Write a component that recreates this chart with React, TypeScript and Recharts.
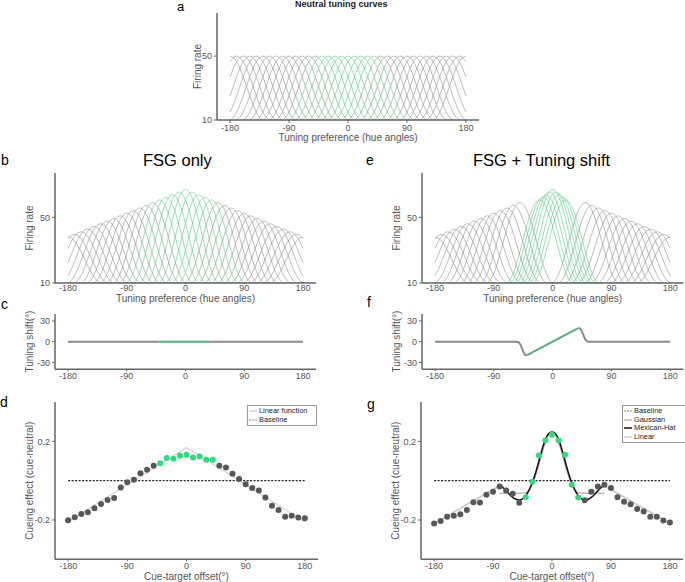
import React from 'react';
import { LineChart, ComposedChart, Line, Scatter, XAxis, YAxis } from 'recharts';

// preferred hue of each model neuron (deg)
const CENTERS = [-180, -170, -160, -150, -140, -130, -120, -110, -100, -90, -80, -70, -60, -50, -40, -30, -20, -10, 0,
  10, 20, 30, 40, 50, 60, 70, 80, 90, 100, 110, 120, 130, 140, 150, 160, 170, 180];
// same neurons after the attentional tuning shift (panel e)
const SHIFTED_PREFS = [-180, -170, -160, -150, -140, -130, -120, -110, -100, -90, -80, -70, -60, -50, -20, -15, -10, -5, 0,
  5, 10, 15, 20, 50, 60, 70, 80, 90, 100, 110, 120, 130, 140, 150, 160, 170, 180];

const BASE_RATE = 10;
const NEUTRAL_PEAK = 50;
const FSG_PEAKS = [38, 39.6, 41.2, 42.8, 44.4, 46.1, 47.7, 49.3, 50.9, 52.5, 54.1, 55.7, 57.3, 58.9, 60.6, 62.2, 63.8, 65.4, 67,
  65.4, 63.8, 62.2, 60.6, 58.9, 57.3, 55.7, 54.1, 52.5, 50.9, 49.3, 47.7, 46.1, 44.4, 42.8, 41.2, 39.6, 38];

// normalised shape of one tuning curve, offset from its preferred hue
const PROFILE_OFFSETS = [0, 5, 10, 15, 20, 25, 30, 35, 40, 45, 50, 55];
const PROFILE = [1, 0.977, 0.912, 0.809, 0.677, 0.53, 0.38, 0.241, 0.126, 0.044, 0.004, 0];

// tuning shift (panel f)
const SHIFT_LEFT_X = [-180, -55, -52, -49, -46, -43, -40];
const SHIFT_LEFT_Y = [0, 0, -1, -5, -12, -18, -20];
const SHIFT_MID_X = [-40, 40];
const SHIFT_MID_Y = [-20, 20];
const SHIFT_RIGHT_X = [40, 43, 46, 49, 52, 55, 180];
const SHIFT_RIGHT_Y = [20, 18, 12, 5, 1, 0, 0];

// cueing effects
const OFFSETS = CENTERS;
const D_EFFECT = [-0.202, -0.186, -0.169, -0.161, -0.14, -0.119, -0.098, -0.088, -0.035, -0.008, 0.004, 0.038, 0.055, 0.076,
  0.089, 0.115, 0.111, 0.127, 0.132, 0.118, 0.123, 0.106, 0.106,
  0.076, 0.067, 0.035, 0.009, -0.018, -0.038, -0.05, -0.086, -0.128, -0.149, -0.183, -0.179, -0.187, -0.191];
const D_LINEAR_X = [-180, 0, 180];
const D_LINEAR_Y = [-0.208, 0.168, -0.21];

const G_EFFECT = [-0.218, -0.205, -0.183, -0.179, -0.171, -0.149, -0.11, -0.111, -0.072, -0.056, -0.03, -0.05, -0.067, -0.112,
  -0.084, -0.006, 0.128, 0.205, 0.234, 0.205, 0.132, -0.021, -0.086,
  -0.1, -0.056, -0.03, -0.021, -0.038, -0.084, -0.107, -0.12, -0.144, -0.157, -0.183, -0.183, -0.203, -0.213];
const FIT_X = [-80, -75, -70, -65, -60, -55, -50, -45, -40, -35, -30, -25, -20, -15, -10, -5, 0,
  5, 10, 15, 20, 25, 30, 35, 40, 45, 50, 55, 60, 65, 70, 75, 80];
const MEXHAT_Y = [-0.02, -0.035, -0.052, -0.07, -0.085, -0.095, -0.098, -0.093, -0.075, -0.048, -0.01, 0.04, 0.1, 0.16, 0.21, 0.24, 0.248,
  0.24, 0.21, 0.16, 0.1, 0.04, -0.01, -0.048, -0.075, -0.093, -0.098, -0.095, -0.085, -0.07, -0.052, -0.035, -0.02];
const GAUSS_Y = [-0.064, -0.064, -0.064, -0.064, -0.064, -0.064, -0.064, -0.063, -0.06, -0.045, -0.018, 0.025, 0.08, 0.14, 0.195, 0.232, 0.245,
  0.232, 0.195, 0.14, 0.08, 0.025, -0.018, -0.045, -0.06, -0.063, -0.064, -0.064, -0.064, -0.064, -0.064, -0.064, -0.064];
const G_LIN_LEFT_X = [-180, -82];
const G_LIN_LEFT_Y = [-0.218, -0.03];
const G_LIN_RIGHT_X = [82, 180];
const G_LIN_RIGHT_Y = [-0.03, -0.218];
const BASELINE_X = [-180, 180];
const BASELINE_Y = [0, 0];

const X_TICKS = [-180, -90, 0, 90, 180];

const GREY_CURVE = '#8e8e8e';
const GREEN_CURVE = '#55c98a';
const AXIS = '#666';
const TEXT = '#555';
const DOT_GREY = '#585858';
const DOT_GREEN = '#2fdc7c';

const pts = (xs: number[], ys: number[]) => xs.map((x, i) => ({ x, y: ys[i] }));

const tuningCurve = (pref: number, peak: number) => {
  const out: { x: number; y: number }[] = [];
  for (let i = PROFILE_OFFSETS.length - 1; i > 0; i--) out.push({ x: pref - PROFILE_OFFSETS[i], y: BASE_RATE + (peak - BASE_RATE) * PROFILE[i] });
  for (let i = 0; i < PROFILE_OFFSETS.length; i++) out.push({ x: pref + PROFILE_OFFSETS[i], y: BASE_RATE + (peak - BASE_RATE) * PROFILE[i] });
  return out.filter(p => p.x >= -180 && p.x <= 180);
};

const tickStyle = { fill: TEXT, fontSize: 9 };
const axisLine = { stroke: AXIS, strokeWidth: 1.5 };

function xAxis(height: number, label: string | null, labelOffset: number, tickSize: number, tickMargin: number) {
  return (
    <XAxis type="number" dataKey="x" domain={[-200, 200]} ticks={X_TICKS} height={height}
      axisLine={axisLine} tickLine={{ stroke: AXIS }} tickSize={tickSize} tickMargin={tickMargin} tick={tickStyle}
      label={label ? { value: label, position: 'insideBottom', offset: labelOffset, style: { fill: TEXT, fontSize: 10 } } : undefined} />
  );
}

function yAxis(domain: number[], ticks: number[], label: string, offset: number) {
  return (
    <YAxis type="number" dataKey="y" domain={domain} ticks={ticks} width={30}
      axisLine={axisLine} tickLine={{ stroke: AXIS }} tickSize={3} tickMargin={2} tick={tickStyle}
      label={{ value: label, angle: -90, position: 'insideLeft', offset, style: { fill: TEXT, fontSize: 10, textAnchor: 'middle' } }} />
  );
}

function TuningPanel({ left, top, width, height, right, prefs, peaks, yOff, xOff, tickSize, tickMargin }: any) {
  const curves = CENTERS.map((c, i) => ({ c, green: Math.abs(c) <= 40, data: tuningCurve(prefs[i], peaks[i]) }));
  const ordered = [...curves.filter(k => !k.green), ...curves.filter(k => k.green)];
  return (
    <div style={{ position: 'absolute', left, top }}>
      <LineChart width={width} height={height} margin={{ top: 5, right, bottom: 0, left: 0 }}>
        {xAxis(30, 'Tuning preference (hue angles)', xOff, tickSize, tickMargin)}
        {yAxis([10, 77], [10, 50], 'Firing rate', yOff)}
        {ordered.map(k => (
          <Line key={k.c} data={k.data} dataKey="y" type="monotone" dot={false} isAnimationActive={false}
            stroke={k.green ? GREEN_CURVE : GREY_CURVE} strokeWidth={0.6} />
        ))}
      </LineChart>
    </div>
  );
}

function ShiftPanel({ left, width, right, leftY, midY, rightY }: any) {
  const segs = [
    { key: 'l', data: pts(SHIFT_LEFT_X, leftY), color: '#8a8a8a' },
    { key: 'r', data: pts(SHIFT_RIGHT_X, rightY), color: '#8a8a8a' },
    { key: 'm', data: pts(SHIFT_MID_X, midY), color: '#5aaa82' },
  ];
  return (
    <div style={{ position: 'absolute', left, top: 309 }}>
      <LineChart width={width} height={75.3} margin={{ top: 5, right, bottom: 0, left: 0 }}>
        {xAxis(15, null, 0, 2, 1)}
        {yAxis([-40, 40], [-30, 0, 30], 'Tuning shift(°)', 4.5)}
        {segs.map(s => (
          <Line key={s.key} data={s.data} dataKey="y" type="monotone" dot={false} isAnimationActive={false}
            stroke={s.color} strokeWidth={2} />
        ))}
      </LineChart>
    </div>
  );
}

const dot = (fill: string) => (p: any) => <circle cx={p.cx} cy={p.cy} r={3} fill={fill} />;

function EffectPanel({ left, width, right, effect, children }: any) {
  const all = pts(OFFSETS, effect);
  const grey = all.filter(p => Math.abs(p.x) > 40);
  const green = all.filter(p => Math.abs(p.x) <= 40);
  return (
    <div style={{ position: 'absolute', left, top: 396.7 }}>
      <ComposedChart width={width} height={185.3} margin={{ top: 5, right, bottom: 0, left: 0 }}>
        {xAxis(23, 'Cue-target offset(°)', 2, 2, 1.5)}
        {yAxis([-0.4, 0.4], [-0.2, 0.2], 'Cueing effect (cue-neutral)', 4)}
        <Line data={pts(BASELINE_X, BASELINE_Y)} dataKey="y" type="linear" dot={false} isAnimationActive={false}
          stroke="#222" strokeWidth={1.3} strokeDasharray="2 1.5" />
        {children}
        <Scatter data={grey} shape={dot(DOT_GREY)} isAnimationActive={false} />
        <Scatter data={green} shape={dot(DOT_GREEN)} isAnimationActive={false} />
      </ComposedChart>
    </div>
  );
}

const LegendBox = ({ left, top, width, items }: any) => (
  <div style={{ position: 'absolute', left, top, width, border: '1px solid #999', background: '#fff', padding: '1px 0 1px 0' }}>
    {items.map((it: any) => (
      <div key={it.label} style={{ display: 'flex', alignItems: 'center', height: 8.5, fontSize: 7.4, color: '#222', lineHeight: '8.5px' }}>
        <svg width={10} height={8} style={{ marginRight: 1 }}>
          <line x1={1} x2={9} y1={4} y2={4} stroke={it.color} strokeWidth={it.w} strokeDasharray={it.dash} />
        </svg>
        <span>{it.label}</span>
      </div>
    ))}
  </div>
);

const abs = (left: number, top: number, extra: any = {}) => ({ position: 'absolute' as const, left, top, whiteSpace: 'nowrap' as const, lineHeight: 1.1, ...extra });

export default function App() {
  return (
    <div style={{ position: 'absolute', left: 0, top: 0, width: 685, height: 582, overflow: 'hidden', background: '#fff', fontFamily: '"Liberation Sans", Arial, Helvetica, sans-serif' }}>
      <div style={abs(177, 0, { fontSize: 13 })}>a</div>
      <div style={abs(295, 0, { fontSize: 9, fontWeight: 'bold', color: '#222' })}>Neutral tuning curves</div>
      <div style={abs(1, 153, { fontSize: 14 })}>b</div>
      <div style={abs(143, 151, { fontSize: 16.5 })}>FSG only</div>
      <div style={abs(366, 153, { fontSize: 14 })}>e</div>
      <div style={abs(473, 151, { fontSize: 16.5 })}>FSG + Tuning shift</div>
      <div style={abs(1, 297, { fontSize: 14 })}>c</div>
      <div style={abs(367, 295, { fontSize: 14 })}>f</div>
      <div style={abs(0, 395, { fontSize: 14 })}>d</div>
      <div style={abs(367, 397, { fontSize: 14 })}>g</div>

      <TuningPanel left={187} top={8} width={297} height={142} right={5} prefs={CENTERS} peaks={CENTERS.map(() => NEUTRAL_PEAK)}
        yOff={10.5} xOff={9} tickSize={3} tickMargin={2} />
      <TuningPanel left={25} top={167.7} width={296} height={145} right={5} prefs={CENTERS} peaks={FSG_PEAKS}
        yOff={4} xOff={10.7} tickSize={1} tickMargin={1} />
      <TuningPanel left={391.7} top={167.7} width={293.3} height={145} right={2} prefs={SHIFTED_PREFS} peaks={FSG_PEAKS}
        yOff={4} xOff={10.7} tickSize={1} tickMargin={1} />

      <ShiftPanel left={25} width={296} right={5} leftY={SHIFT_LEFT_X.map(() => 0)} midY={[0, 0]} rightY={SHIFT_RIGHT_X.map(() => 0)} />
      <ShiftPanel left={391.7} width={293.3} right={2} leftY={SHIFT_LEFT_Y} midY={SHIFT_MID_Y} rightY={SHIFT_RIGHT_Y} />

      <EffectPanel left={25} width={298} right={5} effect={D_EFFECT}>
        <Line data={pts(D_LINEAR_X, D_LINEAR_Y)} dataKey="y" type="linear" dot={false} isAnimationActive={false} stroke="#c4c4c4" strokeWidth={1} />
      </EffectPanel>
      <EffectPanel left={391} width={294} right={2} effect={G_EFFECT}>
        <Line data={pts(G_LIN_LEFT_X, G_LIN_LEFT_Y)} dataKey="y" type="linear" dot={false} isAnimationActive={false} stroke="#c8c8c8" strokeWidth={1.6} />
        <Line data={pts(G_LIN_RIGHT_X, G_LIN_RIGHT_Y)} dataKey="y" type="linear" dot={false} isAnimationActive={false} stroke="#c8c8c8" strokeWidth={1.6} />
        <Line data={pts(FIT_X, GAUSS_Y)} dataKey="y" type="monotone" dot={false} isAnimationActive={false} stroke="#9a9a9a" strokeWidth={1} />
        <Line data={pts(FIT_X, MEXHAT_Y)} dataKey="y" type="monotone" dot={false} isAnimationActive={false} stroke="#111" strokeWidth={1.5} />
      </EffectPanel>

      <LegendBox left={247} top={405} width={68} items={[
        { label: 'Linear function', color: '#bbb', w: 1 },
        { label: 'Baseline', color: '#888', w: 1, dash: '2 1' },
      ]} />
      <LegendBox left={622} top={405} width={70} items={[
        { label: 'Baseline', color: '#888', w: 1, dash: '2 1' },
        { label: 'Gaussian', color: '#999', w: 1 },
        { label: 'Mexican-Hat', color: '#111', w: 1.5 },
        { label: 'Linear', color: '#bbb', w: 1 },
      ]} />
    </div>
  );
}
